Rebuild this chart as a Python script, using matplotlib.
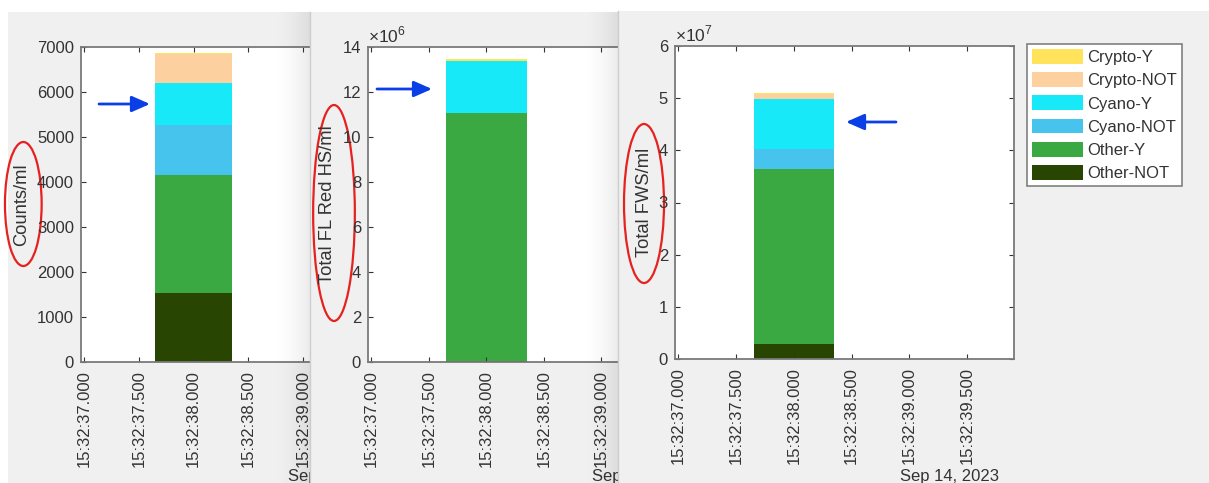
import numpy as np
import matplotlib
matplotlib.use("Agg")
import matplotlib.pyplot as plt
from matplotlib.patches import Rectangle, Ellipse
from matplotlib.lines import Line2D
from matplotlib.ticker import FuncFormatter, MultipleLocator

plt.rcParams['font.family'] = ['Liberation Sans', 'DejaVu Sans']
plt.rcParams['mathtext.fontset'] = 'custom'
plt.rcParams['mathtext.rm'] = 'Liberation Sans'

# ---- data ----
# time axis is seconds after 15:32:00 on Sep 14, 2023
t_min, t_max = 36.97, 39.905
sample_time = 38.0
bar_width = 0.7
date_text = "Sep 14, 2023"

classes = ["Other-NOT", "Other-Y", "Cyano-NOT", "Cyano-Y", "Crypto-NOT", "Crypto-Y"]
class_colors = ["#284502", "#3ba941", "#46c4ee", "#18e9f8", "#fdd09f", "#ffe35a"]

counts = [1540, 2615, 1110, 940, 650, 20]
fl_red_hs = [0.03e6, 11.02e6, 0.01e6, 2.32e6, 0.01e6, 0.07e6]
total_fws = [0.29e7, 3.35e7, 0.38e7, 0.96e7, 0.10e7, 0.01e7]

W, H = 1209, 483
GRAY = "#f0f0f0"
TXT = "#333333"

fig = plt.figure(figsize=(W / 100, H / 100), dpi=100, facecolor="white")


def fbox(l, t, r, b):
    return [l / W, 1 - b / H, (r - l) / W, (b - t) / H]


def fpt(x, y):
    return (x / W, 1 - y / H)


def window(l, t, r, z, edge=True):
    """grey figure window background"""
    fig.add_artist(Rectangle(fpt(l, H), (r - l) / W, (H - t) / H,
                             transform=fig.transFigure, facecolor=GRAY,
                             edgecolor="none", zorder=z))
    if edge:
        fig.add_artist(Line2D([l / W, l / W], [0, 1 - t / H], transform=fig.transFigure,
                              color="#cdcdcd", lw=1, zorder=z + 0.01))


def shadow(l, r, z):
    sh = fig.add_axes(fbox(l, 12, r, H), zorder=z)
    grad = np.zeros((1, 64, 4))
    grad[..., 3] = np.linspace(0, 1, 64) ** 2 * 0.085
    sh.imshow(grad, aspect="auto")
    sh.axis("off")


def stacked_panel(box, values, ylabel, label_x, ymax, ystep, exponent, z):
    l, t, r, b = box
    ax = fig.add_axes(fbox(*box), zorder=z)
    bottom = 0
    for val, col, name in zip(values, class_colors, classes):
        ax.bar(sample_time, val, bar_width, bottom=bottom, color=col,
               linewidth=0, label=name)
        bottom += val
    ax.set_xlim(t_min, t_max)
    ax.set_ylim(0, ymax)
    ax.xaxis.set_major_locator(MultipleLocator(0.5))
    ax.xaxis.set_major_formatter(FuncFormatter(lambda v, p: "15:32:%06.3f" % v))
    ax.yaxis.set_major_locator(MultipleLocator(ystep))
    scale = 10 ** exponent
    ax.yaxis.set_major_formatter(FuncFormatter(lambda v, p: "%g" % (v / scale)))
    ax.tick_params(direction="in", length=3.5, width=0.8, top=True, right=True,
                   colors=TXT, labelsize=12)
    ax.tick_params(axis="x", labelrotation=90, pad=6)
    ax.tick_params(axis="y", pad=5)
    for sp in ax.spines.values():
        sp.set_color("#7a7a7a")
        sp.set_linewidth(1.3)
    ax.set_ylabel(ylabel, fontsize=13.2, color=TXT, va="center")
    ax.yaxis.set_label_coords((label_x - l) / (r - l), 0.5)
    if exponent:
        ax.annotate("\u00d710$^{%d}$" % exponent, xy=(0, 1), xycoords="axes fraction",
                    xytext=(0, 1), textcoords="offset points", ha="left", va="bottom",
                    fontsize=12.5, color=TXT)
    ax.text((r - 15) / W, 1 - 481 / H, date_text, transform=fig.transFigure,
            ha="right", va="baseline", fontsize=12, color=TXT)
    return ax


def mark(ax, ell, arrow):
    cx, cy, w, h = ell
    e = Ellipse(fpt(cx, cy), w / W, h / H, transform=fig.transFigure, fill=False,
                edgecolor="#e5221f", lw=1.6)
    ax.add_artist(e)
    e.set_clip_on(False)
    (x0, y0), (x1, y1) = arrow
    ax.annotate("", xy=fpt(x1, y1), xytext=fpt(x0, y0), xycoords="figure fraction",
                textcoords="figure fraction",
                arrowprops=dict(arrowstyle="-|>,head_length=0.5,head_width=0.22",
                                color="#0b3fe6", lw=2, mutation_scale=22,
                                shrinkA=0, shrinkB=0))


# first window: counts
window(8, 12, 330, 0.5, edge=False)
ax1 = stacked_panel((81, 47, 402, 362), counts, "Counts/ml", 22, 7000, 1000, 0, 1)
mark(ax1, (23.3, 204, 36.7, 124), ((99, 104), (150, 104)))
shadow(268, 310, 1.5)

# second window: red fluorescence
window(310, 12, 640, 2)
ax2 = stacked_panel((368, 47, 705.5, 362), fl_red_hs, "Total FL Red HS/ml", 328,
                    14e6, 2e6, 6, 3)
mark(ax2, (334, 213, 41.7, 216), ((377, 89), (432, 89)))
shadow(578, 618, 3.5)

# third window: forward scatter
window(618, 11, W, 4)
ax3 = stacked_panel((675, 46, 1014, 359), total_fws, "Total FWS/ml", 644,
                    6e7, 1e7, 7, 5)
mark(ax3, (644, 203.5, 40, 159), ((896, 122), (846, 122)))

handles, labels = ax3.get_legend_handles_labels()
leg = ax3.legend(handles[::-1], labels[::-1], loc="upper left",
                 bbox_to_anchor=fpt(1027, 44), bbox_transform=fig.transFigure,
                 fontsize=12, frameon=True, fancybox=False, framealpha=1,
                 edgecolor="#808080", borderpad=0.3, borderaxespad=0,
                 handlelength=3.05, handleheight=1.0, handletextpad=0.25,
                 labelspacing=0.42)
leg.get_frame().set_linewidth(1.2)
for txt in leg.get_texts():
    txt.set_color(TXT)

fig.savefig("out.png", dpi=100, facecolor="white")
